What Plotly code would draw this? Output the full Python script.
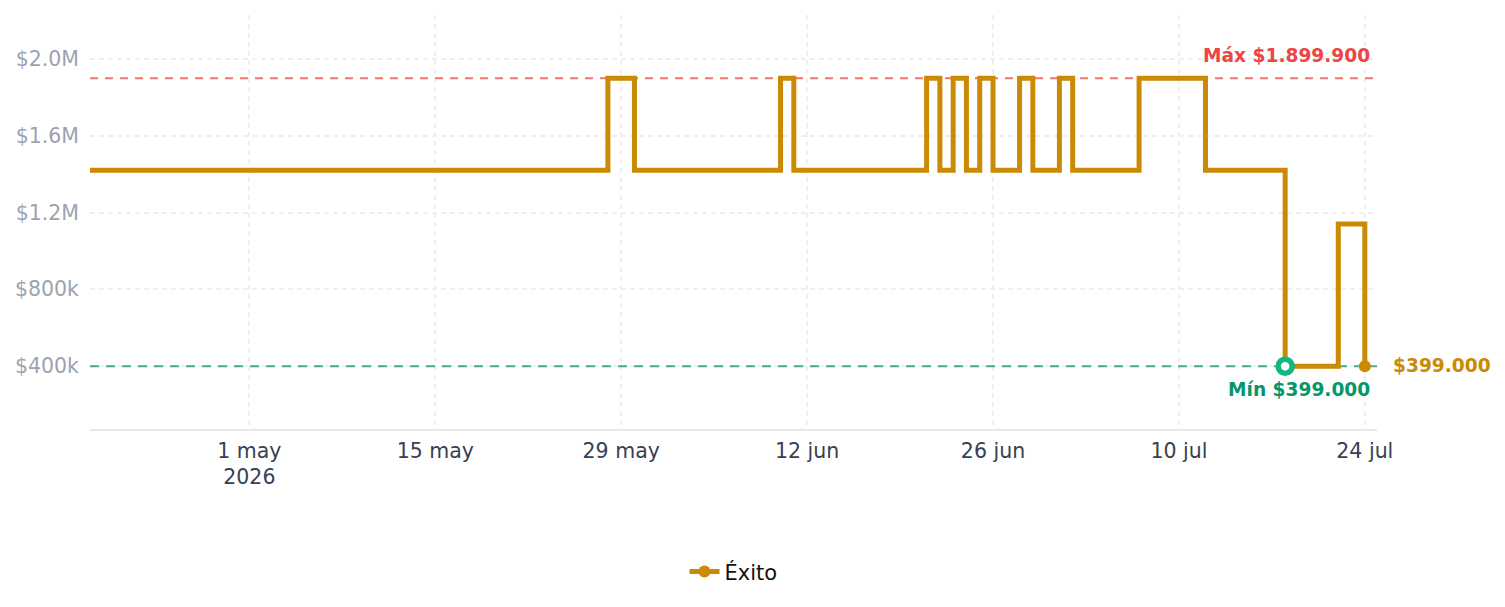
import plotly.graph_objects as go

dates = ["2026-04-19", "2026-05-28", "2026-05-30", "2026-06-10", "2026-06-11",
         "2026-06-21", "2026-06-22", "2026-06-23", "2026-06-24", "2026-06-25",
         "2026-06-26", "2026-06-28", "2026-06-29", "2026-07-01", "2026-07-02",
         "2026-07-07", "2026-07-12", "2026-07-18", "2026-07-22", "2026-07-24"]
prices = [1419900, 1899900, 1419900, 1899900, 1419900,
          1899900, 1419900, 1899900, 1419900, 1899900,
          1419900, 1899900, 1419900, 1899900, 1419900,
          1899900, 1419900, 399000, 1139900, 399000]
max_price = 1899900
min_price = 399000
min_date = "2026-07-18"
last_date = dates[-1]
last_price = prices[-1]
x_range = ["2026-04-19", "2026-07-24 22:00"]

ytick_vals = [400000, 800000, 1200000, 1600000, 2000000]
ytick_text = ["$400k", "$800k", "$1.2M", "$1.6M", "$2.0M"]
xtick_vals = ["2026-05-01", "2026-05-15", "2026-05-29", "2026-06-12",
              "2026-06-26", "2026-07-10", "2026-07-24"]
xtick_text = ["1 may<br>2026", "15 may", "29 may", "12 jun", "26 jun", "10 jul", "24 jul"]

GOLD = "#ca8a04"
RED = "#ef4444"
GREEN = "#059669"
GREEN_M = "#10b981"

sizes = [0] * (len(dates) - 1) + [12]

fig = go.Figure()
# reference lines (max / min) drawn below the price line
fig.add_trace(go.Scatter(
    x=x_range, y=[max_price, max_price], mode="lines", showlegend=False, hoverinfo="skip",
    line=dict(color="rgba(239,68,68,0.75)", width=2, dash="8px,7px"), cliponaxis=False,
))
fig.add_trace(go.Scatter(
    x=x_range, y=[min_price, min_price], mode="lines", showlegend=False, hoverinfo="skip",
    line=dict(color="rgba(5,150,105,0.75)", width=2, dash="9px,7px"), cliponaxis=False,
))
fig.add_trace(go.Scatter(
    x=dates, y=prices, name="Éxito", mode="lines+markers",
    line=dict(color=GOLD, width=5, shape="hv"),
    marker=dict(color=GOLD, size=sizes, opacity=1, line=dict(width=0)),
    hoverinfo="skip",
))
fig.add_trace(go.Scatter(
    x=[min_date], y=[min_price], mode="markers", showlegend=False,
    marker=dict(color="white", size=14, opacity=1, line=dict(color=GREEN_M, width=5.5)),
    hoverinfo="skip",
))

fig.add_annotation(xref="paper", x=0.996, y=max_price, yref="y", text="<b>Máx $1.899.900</b>",
                   showarrow=False, xanchor="right", yanchor="bottom", yshift=10,
                   font=dict(color=RED, size=18.6, family="DejaVu Sans"))
fig.add_annotation(xref="paper", x=0.996, y=min_price, yref="y", text="<b>Mín $399.000</b>",
                   showarrow=False, xanchor="right", yanchor="top", yshift=-11,
                   font=dict(color=GREEN, size=18.6, family="DejaVu Sans"))
fig.add_annotation(x=last_date, y=last_price, text="<b>$399.000</b>",
                   showarrow=False, xanchor="left", yanchor="middle", xshift=26, yshift=1,
                   font=dict(color=GOLD, size=18.6, family="DejaVu Sans"))

fig.update_layout(
    width=1505, height=607,
    margin=dict(l=90, r=128, t=15, b=178),
    paper_bgcolor="white", plot_bgcolor="white",
    font=dict(family="DejaVu Sans", size=20),
    showlegend=True,
    legend=dict(orientation="h", x=0.5, xanchor="center", y=-0.345, yanchor="middle",
                itemsizing="constant",
                font=dict(size=21, color="#111111")),
    xaxis=dict(
        range=x_range,
        tickvals=xtick_vals, ticktext=xtick_text,
        tickfont=dict(color="#374151", size=20.5),
        ticklabelstandoff=2,
        showgrid=True, gridcolor="#efefef", griddash="5px,4px", gridwidth=2,
        showline=True, linecolor="#e5e7eb", linewidth=2,
        zeroline=False, ticks="",
    ),
    yaxis=dict(
        range=[72000, 2229000],
        tickvals=ytick_vals, ticktext=ytick_text,
        tickfont=dict(color="#9ca3af", size=20.5),
        ticklabelstandoff=10,
        showgrid=True, gridcolor="#efefef", griddash="5px,4px", gridwidth=2,
        zeroline=False, showline=False, ticks="",
    ),
)

fig.write_html("out.html")
